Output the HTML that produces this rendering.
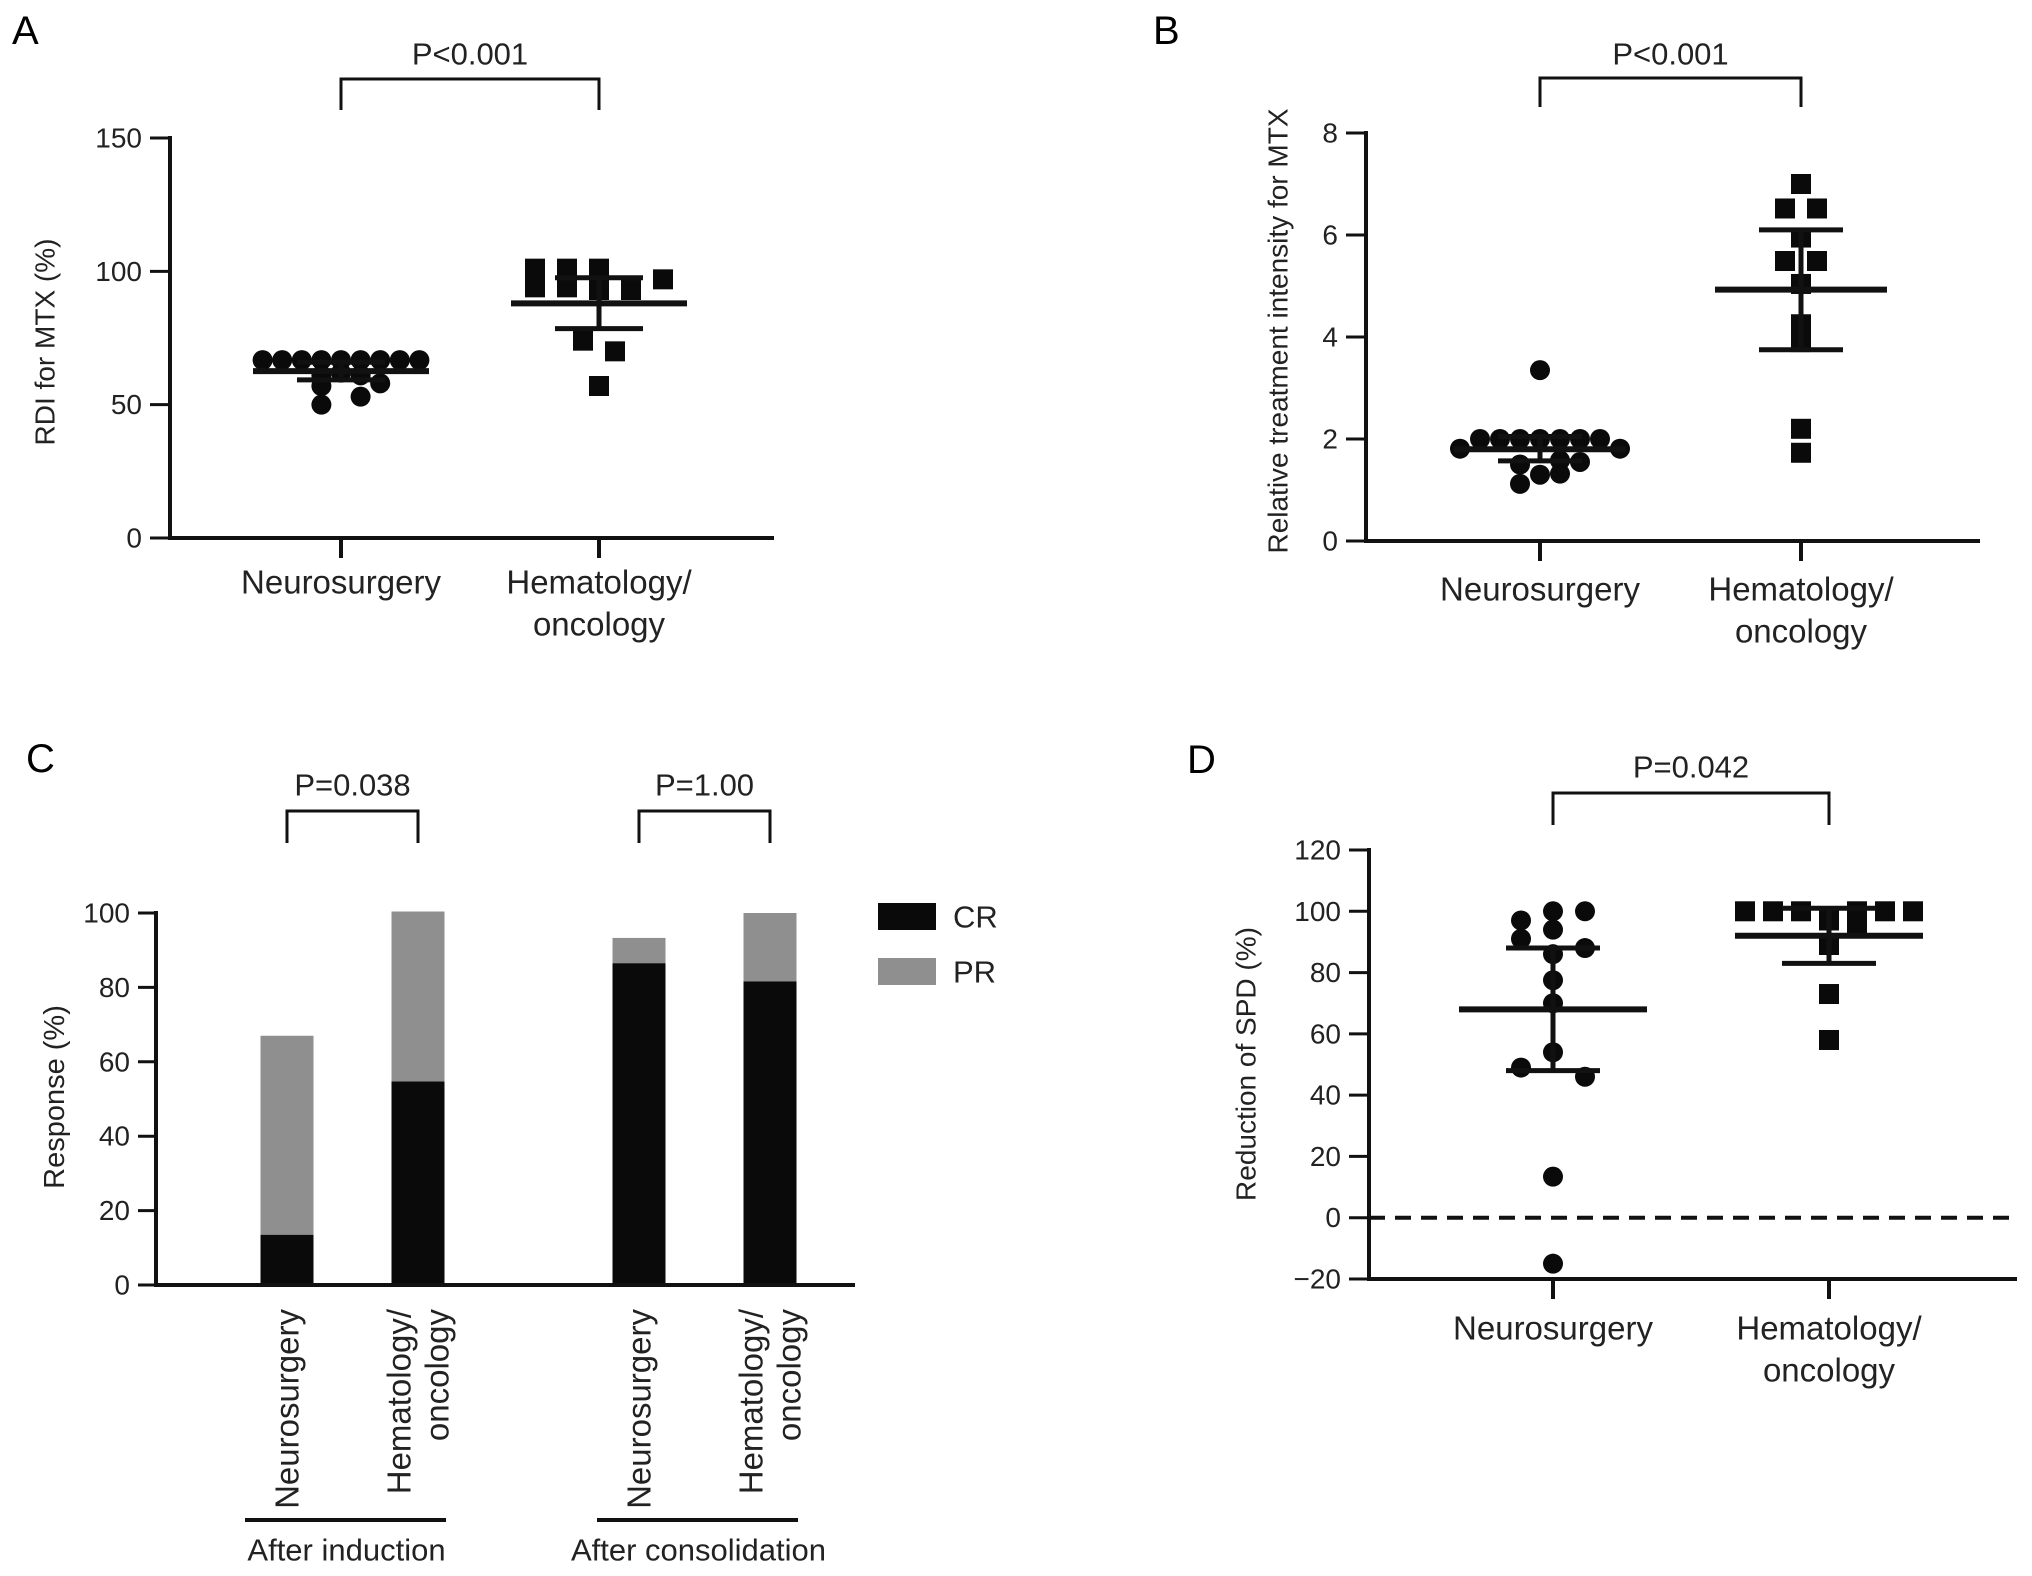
<!DOCTYPE html>
<html><head><meta charset="utf-8"><style>
html,body{margin:0;padding:0;background:#fff;}
svg{display:block;font-family:"Liberation Sans",Arial,sans-serif;}
</style></head><body>
<svg id="fig" width="2032" height="1576" viewBox="0 0 2032 1576" xmlns="http://www.w3.org/2000/svg"></svg>
<script>
// ---------- Panel A data ----------
const aCategories = ["Neurosurgery", "Hematology/|oncology"];
const aTicks = [0, 50, 100, 150];
const aNeuroValues = [66.7,66.7,66.7,66.7,66.7,66.7,66.7,66.7,66.7,61,62,61,58,57,50,53];
const aNeuroSlots  = [-4,-3,-2,-1,0,1,2,3,4,-1,0,1,2,-1,-1,1];
const aHemaValues  = [101,94,101,94,101,93,93,97,74,70,57];
const aHemaSlots   = [-2,-2,-1,-1,0,0,1,2,-0.5,0.5,0];
const aMean = [62.6, 88];
const aLow  = [59.3, 78.5];
const aHigh = [65.9, 97.6];
// ---------- Panel B data ----------
const bCategories = ["Neurosurgery", "Hematology/|oncology"];
const bTicks = [0, 2, 4, 6, 8];
const bNeuroValues = [3.35,2.0,2.0,2.0,2.0,2.0,2.0,2.0,1.81,1.81,1.5,1.58,1.55,1.3,1.32,1.12];
const bNeuroSlots  = [0,-3,-2,-1,0,1,2,3,-4,4,-1,1,2,0,1,-1];
const bHemaValues  = [7.0,6.52,6.52,5.95,5.49,5.49,5.04,4.25,3.9,2.2,1.73];
const bHemaSlots   = [0,-1,1,0,-1,1,0,0,0,0,0];
const bMean = [1.8, 4.93];
const bLow  = [1.57, 3.75];
const bHigh = [2.05, 6.1];
// ---------- Panel C data ----------
const cBars = ["Neurosurgery", "Hematology/|oncology", "Neurosurgery", "Hematology/|oncology"];
const cGroups = ["After induction", "After consolidation"];
const cTicks = [0, 20, 40, 60, 80, 100];
const cCR = [13.5, 54.7, 86.5, 81.6];
const cPR = [53.5, 45.7, 6.8, 18.4];
// ---------- Panel D data ----------
const dCategories = ["Neurosurgery", "Hematology/|oncology"];
const dTicks = [-20, 0, 20, 40, 60, 80, 100, 120];
const dNeuroValues = [97,100,100,94,91,88,86,77.5,70,54,49,46,13.4,-15];
const dNeuroSlots  = [-1,0,1,0,-1,1,0,0,0,0,-1,1,0,0];
const dHemaValues  = [100,100,100,100,100,100,97,95.5,89,73,58];
const dHemaSlots   = [-3,-2,-1,1,2,3,0,1,0,0,0];
const dMean = [68, 92];
const dLow  = [48, 83];
const dHigh = [88, 101];

const NS = "http://www.w3.org/2000/svg";
const svg = document.getElementById("fig");
function mk(tag, attrs, parent, text) {
  const e = document.createElementNS(NS, tag);
  for (const k in attrs) e.setAttribute(k, attrs[k]);
  if (text !== undefined) e.textContent = text;
  (parent || svg).appendChild(e);
  return e;
}
function line(x1,y1,x2,y2,w,parent,extra){
  const l = mk("line",Object.assign({x1,y1,x2,y2,stroke:"#111","stroke-width":w},extra||{}),parent);
  return l;
}

function drawScatterPanel(p) {
  const g = mk("g", {});
  
  
  const ys = v => p.yb - (v - p.min) / (p.max - p.min) * (p.yb - p.yt);
  const L = mk("text",{x:p.letterX,y:p.letterY,"font-size":40},g,p.letter);
  
  
  const ya = line(p.x0, ys(p.max)-2, p.x0, ys(p.min)+2, 4, g);
  
  
  const xa = line(p.x0-2, p.yb, p.xEnd, p.yb, 4, g);
  
  
  p.ticks.forEach(t => {
    const y = ys(t);
    const tk = line(p.x0-20, y, p.x0, y, 3, g);
    
    
    const lb = mk("text",{x:p.x0-28,y:y,"font-size":p.tickFont||28,"text-anchor":"end","dominant-baseline":"central",fill:"#222"},g,t<0?"\u2212"+(-t):String(t));
    
    
  });
  if (p.dashZero) {
    const dz = line(p.x0, ys(0), p.xEnd, ys(0), 4, g, {"stroke-dasharray":"16 10"});
    
    
  }
  const yt = mk("text",{x:p.titleX,y:p.titleY,"font-size":28,"text-anchor":"middle","dominant-baseline":"central",transform:`rotate(-90 ${p.titleX} ${p.titleY})`,fill:"#222"},g,p.title);
  
  
  p.cats.forEach((c,i) => {
    const cx = p.catX[i];
    const tk = line(cx, p.yb, cx, p.yb+20, 4, g);
    
    
    c.split("|").forEach((s,j) => {
      const t = mk("text",{x:cx,y:p.labY + j*42,"font-size":33,"text-anchor":"middle","dominant-baseline":"central",fill:"#222"},g,s);
      
      
    });
  });
  const br = mk("path",{d:`M${p.catX[0]} ${p.brB} V${p.brT} H${p.catX[1]} V${p.brB}`,fill:"none",stroke:"#111","stroke-width":3},g);
  
  
  const pt = mk("text",{x:(p.catX[0]+p.catX[1])/2,y:p.pY,"font-size":31,"text-anchor":"middle","dominant-baseline":"central",fill:"#222"},g,p.pText);
  
  
  p.neuro.forEach((v,i) => {
    const c = mk("circle",{cx:p.catX[0]+p.neuroSlots[i]*p.slot0,cy:ys(v),r:10,fill:"#0a0a0a"},g);
    
    
  });
  p.hema.forEach((v,i) => {
    const s = 20;
    const r = mk("rect",{x:p.catX[1]+p.hemaSlots[i]*p.slot1-s/2,y:ys(v)-s/2,width:s,height:s,fill:"#0a0a0a"},g);
    
    
  });
  [0,1].forEach(i => {
    const cx = p.catX[i];
    const v = line(cx, ys(p.high[i]), cx, ys(p.low[i]), 5, g);
    
    
    const m = line(cx-p.meanW/2, ys(p.mean[i]), cx+p.meanW/2, ys(p.mean[i]), 6, g);
    
    
    [p.high[i], p.low[i]].forEach(val => {
      const cp = line(cx-p.capW/2, ys(val), cx+p.capW/2, ys(val), 5, g);
      
      
    });
  });
}

drawScatterPanel({name:"panel-a",letter:"A",letterX:12,letterY:44,x0:170,xEnd:774,yt:138,yb:538,min:0,max:150,ticks:aTicks,
  title:"RDI for MTX (%)",titleX:45,titleY:342,cats:aCategories,catX:[341,599],labY:582,brT:79,brB:110,pY:54,pText:"P<0.001",
  neuro:aNeuroValues,neuroSlots:aNeuroSlots,slot0:19.6,hema:aHemaValues,hemaSlots:aHemaSlots,slot1:32,
  mean:aMean,low:aLow,high:aHigh,meanW:176,capW:88});
drawScatterPanel({name:"panel-b",letter:"B",letterX:1153,letterY:44,x0:1366,xEnd:1980,yt:133,yb:541,min:0,max:8,ticks:bTicks,
  title:"Relative treatment intensity for MTX",titleX:1278,titleY:331,cats:bCategories,catX:[1540,1801],labY:589,brT:78,brB:107,pY:54,pText:"P<0.001",
  neuro:bNeuroValues,neuroSlots:bNeuroSlots,slot0:20,hema:bHemaValues,hemaSlots:bHemaSlots,slot1:16,
  mean:bMean,low:bLow,high:bHigh,meanW:172,capW:84});
drawScatterPanel({name:"panel-d",letter:"D",letterX:1187,letterY:773,x0:1369,xEnd:2017,yt:850,yb:1279,min:-20,max:120,ticks:dTicks,
  title:"Reduction of SPD (%)",titleX:1246,titleY:1064,cats:dCategories,catX:[1553,1829],labY:1328,brT:793,brB:825,pY:767,pText:"P=0.042",dashZero:true,
  neuro:dNeuroValues,neuroSlots:dNeuroSlots,slot0:32,hema:dHemaValues,hemaSlots:dHemaSlots,slot1:28,
  mean:dMean,low:dLow,high:dHigh,meanW:188,capW:94});

(function(){
  const g = mk("g", {});
  
  
  const x0 = 156, xEnd = 855, yt = 913, yb = 1285, min = 0, max = 100;
  const ys = v => yb - (v - min) / (max - min) * (yb - yt);
  const barX = [287, 418, 639, 770];
  const bw = 53;
  const L = mk("text",{x:26,y:772,"font-size":40},g,"C");
  
  
  cCR.forEach((v,i) => {
    const pr = mk("rect",{x:barX[i]-bw/2,y:ys(v+cPR[i]),width:bw,height:ys(v)-ys(v+cPR[i]),fill:"#8f8f8f"},g);
    
    
    const cr = mk("rect",{x:barX[i]-bw/2,y:ys(v),width:bw,height:ys(0)-ys(v),fill:"#0a0a0a"},g);
    
    
    cBars[i].split("|").forEach((s,j,arr) => {
      const lx = barX[i] + (j - (arr.length-1)/2) * 38;
      const ly = 1309;
      const t = mk("text",{x:lx,y:ly,"font-size":33,"text-anchor":"end","dominant-baseline":"central",transform:`rotate(-90 ${lx} ${ly})`,fill:"#222"},g,s);
      
      
    });
  });
  const ya = line(x0, yt-2, x0, yb+2, 4, g);
  
  
  const xa = line(x0-2, yb, xEnd, yb, 4, g);
  
  
  cTicks.forEach(t => {
    const y = ys(t);
    const tk = line(x0-18, y, x0, y, 3, g);
    
    
    const lb = mk("text",{x:x0-26,y:y,"font-size":28,"text-anchor":"end","dominant-baseline":"central",fill:"#222"},g,String(t));
    
    
  });
  const yt2 = mk("text",{x:55,y:1097,"font-size":29,"text-anchor":"middle","dominant-baseline":"central",transform:"rotate(-90 55 1097)",fill:"#222"},g,"Response (%)");
  
  
  const pvals = ["P=0.038","P=1.00"];
  [[0,1],[2,3]].forEach((pair,k) => {
    const xa1 = barX[pair[0]], xa2 = barX[pair[1]];
    const br = mk("path",{d:`M${xa1} 843 V811 H${xa2} V843`,fill:"none",stroke:"#111","stroke-width":3},g);
    
    
    const pt = mk("text",{x:(xa1+xa2)/2,y:785,"font-size":31,"text-anchor":"middle","dominant-baseline":"central",fill:"#222"},g,pvals[k]);
    
    
    const gl = line(xa1-42, 1520, xa2+28, 1520, 4, g);
    
    
    const gt = mk("text",{x:(xa1+xa2)/2-6,y:1550,"font-size":31,"text-anchor":"middle","dominant-baseline":"central",fill:"#222"},g,cGroups[k]);
    
    
  });
  const lg = mk("g",{},g);
  
  
  const r1 = mk("rect",{x:878,y:903,width:58,height:27,fill:"#0a0a0a"},lg);
  
  
  const t1 = mk("text",{x:953,y:917,"font-size":31,"dominant-baseline":"central",fill:"#222"},lg,"CR");
  
  
  const r2 = mk("rect",{x:878,y:958,width:58,height:27,fill:"#8f8f8f"},lg);
  
  
  const t2 = mk("text",{x:953,y:972,"font-size":31,"dominant-baseline":"central",fill:"#222"},lg,"PR");
  
  
})();
</script>
</body></html>
